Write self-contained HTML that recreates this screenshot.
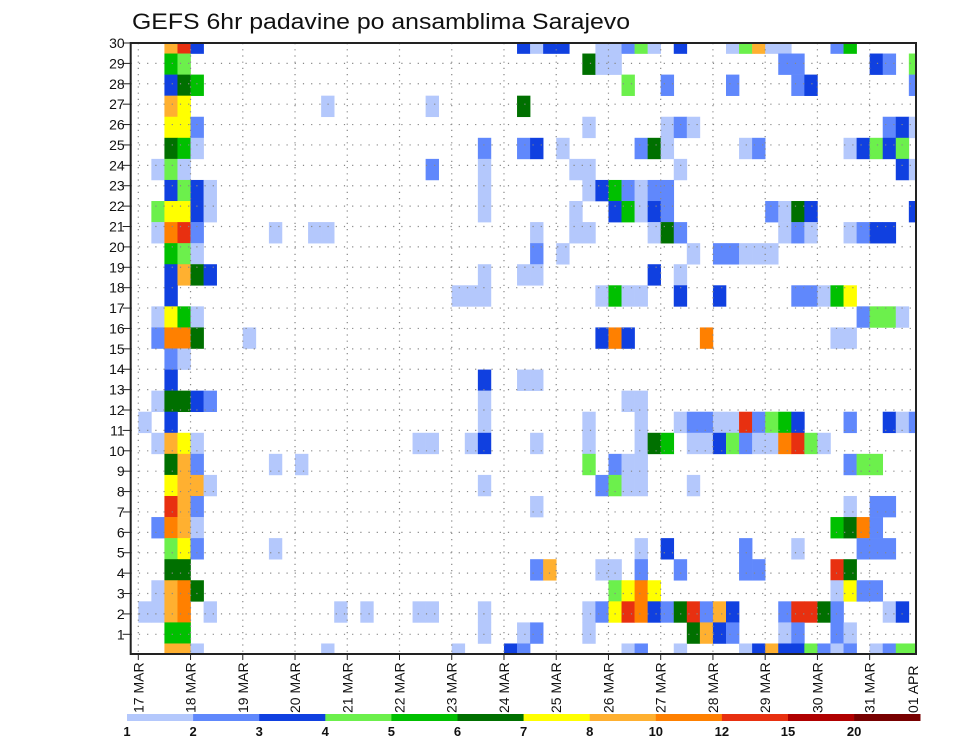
<!DOCTYPE html>
<html><head><meta charset="utf-8">
<style>
html,body{margin:0;padding:0;background:#fff;}
svg{display:block;font-family:"Liberation Sans","DejaVu Sans",sans-serif;}
</style></head>
<body>
<svg id="chart" width="960" height="742" viewBox="0 0 960 742" xmlns="http://www.w3.org/2000/svg">
<text x="132" y="29" font-size="22" fill="#111" textLength="498" lengthAdjust="spacingAndGlyphs">GEFS 6hr padavine po ansamblima Sarajevo</text>
<g id="cells"></g>
<g id="grid"></g>
<g id="axes"></g>
<g id="legend"></g>
</svg>
<script>
// ---- data ----
const dayLabels = ["17 MAR","18 MAR","19 MAR","20 MAR","21 MAR","22 MAR","23 MAR","24 MAR","25 MAR","26 MAR","27 MAR","28 MAR","29 MAR","30 MAR","31 MAR","01 APR"];
const memberTicks = [1,2,3,4,5,6,7,8,9,10,11,12,13,14,15,16,17,18,19,20,21,22,23,24,25,26,27,28,29,30];
const levelBounds = [1,2,3,4,5,6,7,8,10,12,15,20];
const levelColors = ["#b4c8fc","#6088fc","#1040e0","#6cf04c","#00c000","#007000","#ffff00","#ffb030","#ff8000","#e83010","#b00000","#780000"];
// precipitation per ensemble row (top row first), "timestep:mm"
const precipRows = [
"2:9 3:13.5 4:3.5 29:3.5 30:1.5 31:3.5 32:3.5 35:1.5 36:1.5 37:2.5 38:4.5 39:1.5 41:3.5 45:1.5 46:4.5 47:9 48:1.5 49:1.5 53:2.5 54:5.5",
"2:5.5 3:4.5 34:6.5 35:1.5 36:1.5 49:2.5 50:2.5 56:3.5 57:2.5 59:4.5",
"2:3.5 3:6.5 4:5.5 37:4.5 40:2.5 45:2.5 50:2.5 51:3.5 59:2.5",
"2:9 3:7.5 14:1.5 22:1.5 29:6.5",
"2:7.5 3:7.5 4:2.5 34:1.5 40:1.5 41:2.5 42:1.5 57:2.5 58:3.5 59:1.5",
"2:6.5 3:5.5 4:1.5 26:2.5 29:2.5 30:3.5 32:1.5 38:2.5 39:6.5 40:1.5 46:1.5 47:2.5 54:1.5 55:3.5 56:4.5 57:3.5 58:4.5",
"1:1.5 2:4.5 3:1.5 22:2.5 26:1.5 33:1.5 34:1.5 41:1.5 58:3.5 59:1.5",
"2:3.5 3:4.5 4:3.5 5:1.5 26:1.5 34:1.5 35:3.5 36:5.5 37:2.5 38:1.5 39:2.5 40:2.5",
"1:4.5 2:7.5 3:7.5 4:3.5 5:1.5 26:1.5 33:1.5 36:3.5 37:5.5 38:1.5 39:3.5 40:2.5 48:2.5 49:1.5 50:6.5 51:3.5 59:3.5",
"1:1.5 2:11 3:13.5 4:2.5 10:1.5 13:1.5 14:1.5 30:1.5 33:1.5 34:1.5 39:1.5 40:6.5 41:2.5 49:1.5 50:2.5 51:1.5 54:1.5 55:2.5 56:3.5 57:3.5",
"2:5.5 3:4.5 4:1.5 30:2.5 32:1.5 42:1.5 44:2.5 45:2.5 46:1.5 47:1.5 48:1.5",
"2:3.5 3:9 4:6.5 5:3.5 26:1.5 29:1.5 30:1.5 39:3.5 41:1.5",
"2:3.5 24:1.5 25:1.5 26:1.5 35:1.5 36:5.5 37:1.5 38:1.5 41:3.5 44:3.5 50:2.5 51:2.5 52:1.5 53:5.5 54:7.5",
"1:1.5 2:7.5 3:5.5 4:1.5 55:2.5 56:4.5 57:4.5 58:1.5",
"1:2.5 2:11 3:11 4:6.5 8:1.5 35:3.5 36:11 37:3.5 43:11 53:1.5 54:1.5",
"2:2.5 3:1.5",
"2:3.5 26:3.5 29:1.5 30:1.5",
"1:1.5 2:6.5 3:6.5 4:3.5 5:2.5 26:1.5 37:1.5 38:1.5",
"0:1.5 2:3.5 26:1.5 34:1.5 38:1.5 41:1.5 42:2.5 43:2.5 44:1.5 45:1.5 46:13.5 47:2.5 48:4.5 49:5.5 50:3.5 54:2.5 57:3.5 58:1.5 59:2.5",
"1:1.5 2:9 3:7.5 4:1.5 21:1.5 22:1.5 25:1.5 26:3.5 30:1.5 34:1.5 38:1.5 39:6.5 40:5.5 42:1.5 43:1.5 44:3.5 45:4.5 46:2.5 47:1.5 48:1.5 49:11 50:13.5 51:4.5 52:1.5",
"2:6.5 3:9 4:2.5 10:1.5 12:1.5 34:4.5 36:2.5 37:1.5 38:1.5 54:2.5 55:4.5 56:4.5",
"2:7.5 3:9 4:9 5:1.5 26:1.5 35:2.5 36:4.5 37:1.5 38:1.5 42:1.5",
"2:13.5 3:9 4:2.5 30:1.5 54:1.5 56:2.5 57:2.5",
"1:2.5 2:11 3:9 4:1.5 53:5.5 54:6.5 55:11 56:2.5",
"2:4.5 3:7.5 4:2.5 10:1.5 38:1.5 40:3.5 46:2.5 50:1.5 55:2.5 56:2.5 57:2.5",
"2:6.5 3:6.5 30:2.5 31:9 35:1.5 36:1.5 38:2.5 41:2.5 46:2.5 47:2.5 53:13.5 54:6.5",
"1:1.5 2:9 3:11 4:6.5 36:4.5 37:7.5 38:11 39:7.5 53:1.5 54:7.5 55:2.5 56:2.5",
"0:1.5 1:1.5 2:9 3:11 5:1.5 15:1.5 17:1.5 21:1.5 22:1.5 26:1.5 34:1.5 35:2.5 36:7.5 37:13.5 38:11 39:3.5 40:2.5 41:6.5 42:13.5 43:2.5 44:9 45:3.5 49:2.5 50:13.5 51:13.5 52:6.5 53:2.5 57:1.5 58:3.5",
"2:5.5 3:5.5 26:1.5 29:1.5 30:2.5 34:1.5 42:6.5 43:9 44:3.5 45:2.5 49:1.5 50:2.5 53:2.5 54:1.5",
"2:9 3:9 4:1.5 14:1.5 24:1.5 28:3.5 29:2.5 37:1.5 38:2.5 41:1.5 46:1.5 47:3.5 48:9 49:3.5 50:3.5 51:4.5 52:2.5 53:1.5 54:2.5 56:1.5 57:2.5 58:4.5 59:4.5"
];

// ---- geometry ----
const NS = "http://www.w3.org/2000/svg";
const L = 130.7, R = 916, T = 43, B = 654;
const x0 = 138.3, colW = 13.06;
const rowH = (B - T) / 29;
function xCol(k){ return x0 + k * colW; }
function yRow(j){ return T + j * rowH; }       // center of ensemble row j (top=0)
function yMember(n){ return 634.3 - (n - 1) * ((634.3 - 43) / 29); }
function xDay(d){ return x0 + d * 4 * colW; }
function colorFor(v){
  let idx = -1;
  for (let i = 0; i < levelBounds.length; i++) if (v >= levelBounds[i]) idx = i;
  return idx < 0 ? null : levelColors[idx];
}
function mk(tag, attrs, parent){
  const e = document.createElementNS(NS, tag);
  for (const k in attrs) e.setAttribute(k, attrs[k]);
  parent.appendChild(e); return e;
}

// clip
const defs = mk("defs", {}, document.getElementById("chart"));
const cp = mk("clipPath", {id:"plotclip"}, defs);
mk("rect", {x:L, y:T, width:R-L, height:B-T}, cp);

// cells
const gc = document.getElementById("cells");
gc.setAttribute("clip-path", "url(#plotclip)");
precipRows.forEach((row, j) => {
  row.trim().split(/\s+/).forEach(p => {
    const [k, v] = p.split(":").map(Number);
    const c = colorFor(v);
    if (!c) return;
    const r = mk("rect", {x:xCol(k).toFixed(2), y:(yRow(j)-rowH/2).toFixed(2), width:(colW+0.3).toFixed(2), height:(rowH+0.3).toFixed(2), fill:c}, gc);
    
    
  });
});

// grid
const gg = document.getElementById("grid");
memberTicks.forEach(n => {
  const y = yMember(n);
  const l = mk("line", {x1:L, x2:R, y1:y, y2:y, stroke:"#888", "stroke-width":1.2, "stroke-dasharray":"1.2 7"}, gg);
  
  
});
dayLabels.forEach((d, i) => {
  const x = xDay(i);
  if (x > R) return;
  const l = mk("line", {x1:x, x2:x, y1:T, y2:B, stroke:"#888", "stroke-width":1.2, "stroke-dasharray":"1.2 5"}, gg);
  
  
});

// axes
const ga = document.getElementById("axes");
const frame = mk("rect", {x:L, y:T, width:R-L, height:B-T, fill:"none", stroke:"#222", "stroke-width":2}, ga);


memberTicks.forEach(n => {
  const y = yMember(n);
  const t = mk("line", {x1:L-8, x2:L, y1:y, y2:y, stroke:"#222", "stroke-width":1}, ga);
  
  
  const tx = mk("text", {x:L-6, y:y+5, "font-size":14, "text-anchor":"end", fill:"#111"}, ga);
  tx.textContent = n;
  
  
});
dayLabels.forEach((d, i) => {
  let x = xDay(i);
  if (x <= R) {
    const t = mk("line", {x1:x, x2:x, y1:B, y2:B+6, stroke:"#222", "stroke-width":1}, ga);
    
    
  }
  x = Math.min(x, 913);
  const tx = mk("text", {x:0, y:0, "font-size":14, "text-anchor":"start", fill:"#111", transform:`translate(${x+5},713) rotate(-90)`}, ga);
  tx.textContent = d;
  
  
});

// legend
const gl = document.getElementById("legend");
const lx0 = 127, lw = 66.1;
levelColors.forEach((c, i) => {
  const r = mk("rect", {x:lx0+i*lw, y:714, width:lw+0.3, height:7, fill:c}, gl);
  
  
});
levelBounds.forEach((b, i) => {
  const t = mk("text", {x:lx0+i*lw, y:736, "font-size":13, "font-weight":"bold", "text-anchor":"middle", fill:"#111"}, gl);
  t.textContent = b;
  
  
});
</script>
</body></html>
